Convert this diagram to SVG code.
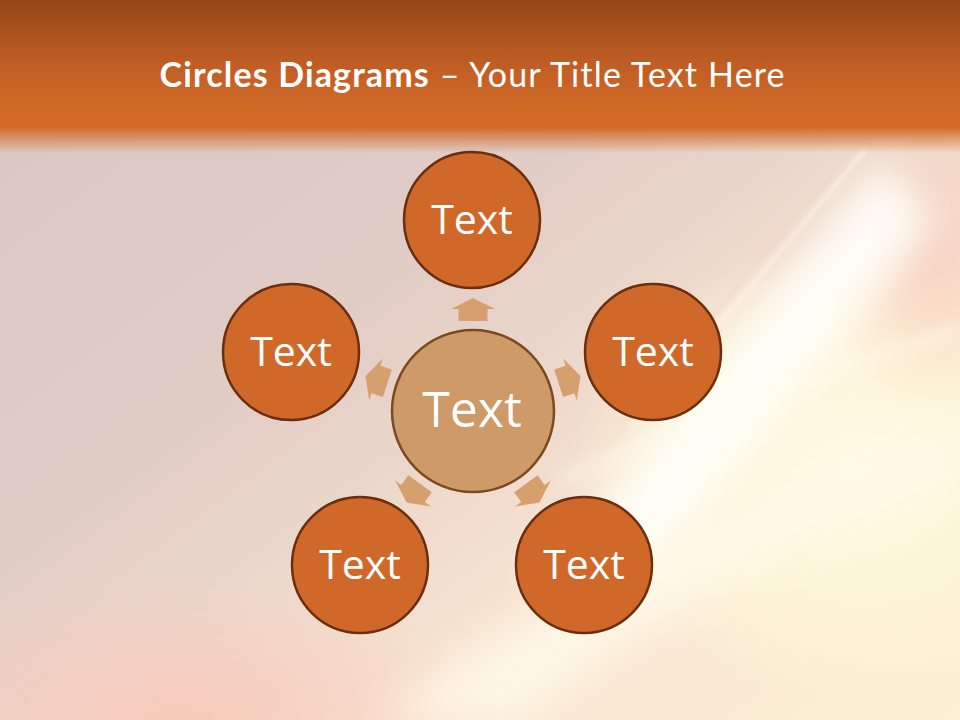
<svg xmlns="http://www.w3.org/2000/svg" width="960" height="720" viewBox="0 0 960 720">
<defs>
<linearGradient id="bg" x1="0" y1="0" x2="1" y2="1">
<stop offset="0" stop-color="#D8C6C4"/>
<stop offset="0.4" stop-color="#E2CCC6"/>
<stop offset="0.7" stop-color="#F8E4D2"/>
<stop offset="1" stop-color="#FCEFD4"/>
</linearGradient>
<radialGradient id="cream" cx="0.5" cy="0.5" r="0.5">
<stop offset="0" stop-color="#FEFBE4" stop-opacity="1"/>
<stop offset="0.6" stop-color="#FDF6D8" stop-opacity="0.8"/>
<stop offset="1" stop-color="#FDF6D8" stop-opacity="0"/>
</radialGradient>
<radialGradient id="pink" cx="0.5" cy="0.5" r="0.5">
<stop offset="0" stop-color="#F8C8B8" stop-opacity="0.9"/>
<stop offset="1" stop-color="#F8C8B8" stop-opacity="0"/>
</radialGradient>
<linearGradient id="hdr" x1="0" y1="0" x2="0" y2="1">
<stop offset="0" stop-color="#944716"/>
<stop offset="0.5" stop-color="#C05D24"/>
<stop offset="0.85" stop-color="#D16A28"/>
<stop offset="1" stop-color="#D16A28"/>
</linearGradient>
<linearGradient id="fade" x1="0" y1="0" x2="0" y2="1">
<stop offset="0" stop-color="#D16A28" stop-opacity="1"/>
<stop offset="1" stop-color="#D16A28" stop-opacity="0"/>
</linearGradient>
<filter id="blur20" x="-50%" y="-50%" width="200%" height="200%"><feGaussianBlur stdDeviation="20"/></filter>
<filter id="blur8" x="-50%" y="-50%" width="200%" height="200%"><feGaussianBlur stdDeviation="8"/></filter>
<filter id="blur3" x="-50%" y="-50%" width="200%" height="200%"><feGaussianBlur stdDeviation="2"/></filter>
<style>
.outer{fill:#CF6828;stroke:#6A2F0E;stroke-width:2.5}
.center{fill:#CD9A68;stroke:#7A4A22;stroke-width:2.5}
.lbl{font-family:"Open Sans","Liberation Sans",sans-serif;fill:#FFFFFF;text-anchor:middle}
.arr{fill:#D6A06E}
</style>
</defs>
<g id="background">
<rect x="0" y="0" width="960" height="720" fill="url(#bg)"/>
<ellipse cx="850" cy="470" rx="280" ry="230" fill="url(#cream)"/>
<ellipse cx="180" cy="720" rx="320" ry="140" fill="url(#pink)"/>
<ellipse cx="930" cy="260" rx="110" ry="150" fill="url(#pink)" opacity="0.7"/>
<path d="M 880 160 L 540 580 L 640 590 L 935 220 Z" fill="#FFFEF8" opacity="0.95" filter="url(#blur20)"/>
<path d="M 960 420 C 800 470 600 560 380 720 L 520 720 C 680 600 820 520 960 480 Z" fill="#FFFBEA" opacity="0.8" filter="url(#blur20)"/>
<path d="M 865 150 L 630 430" stroke="#FFF4EA" stroke-width="3" opacity="0.9" filter="url(#blur3)"/>
<path d="M 852 150 L 620 425" stroke="#F2D2C4" stroke-width="2" opacity="0.7" filter="url(#blur3)"/>
<path d="M 960 330 C 800 380 700 420 560 480" stroke="#FFFBEE" stroke-width="10" opacity="0.6" filter="url(#blur8)" fill="none"/>
</g>
<g id="header">
<rect x="0" y="0" width="960" height="128" fill="url(#hdr)"/>
<rect x="0" y="127" width="960" height="26" fill="url(#fade)"/>
<text x="472" y="87" font-family="Lato,'Liberation Sans',sans-serif" font-size="34" fill="#FFFFFF" text-anchor="middle" textLength="625" lengthAdjust="spacing"><tspan font-weight="bold">Circles Diagrams</tspan> – Your Title Text Here</text>
</g>
<g id="connectors">
<polygon class="arr" points="458.5,321 487.5,321 487.5,309 495,309 473,298 451,309 458.5,309"/>
<polygon class="arr" points="458.5,321 487.5,321 487.5,309 495,309 473,298 451,309 458.5,309" transform="rotate(72 473 411)"/>
<polygon class="arr" points="458.5,321 487.5,321 487.5,309 495,309 473,298 451,309 458.5,309" transform="rotate(144 473 411)"/>
<polygon class="arr" points="458.5,321 487.5,321 487.5,309 495,309 473,298 451,309 458.5,309" transform="rotate(216 473 411)"/>
<polygon class="arr" points="458.5,321 487.5,321 487.5,309 495,309 473,298 451,309 458.5,309" transform="rotate(288 473 411)"/>
</g>
<g id="node-center">
<circle class="center" cx="473" cy="411" r="81"/>
<text class="lbl" x="472" y="427" font-size="50">Text</text>
</g>
<g id="node-top">
<circle class="outer" cx="472" cy="220" r="68"/>
<text class="lbl" x="472" y="234" font-size="41">Text</text>
</g>
<g id="node-right">
<circle class="outer" cx="653" cy="352" r="68"/>
<text class="lbl" x="653" y="366" font-size="41">Text</text>
</g>
<g id="node-bottom-right">
<circle class="outer" cx="584" cy="565" r="68"/>
<text class="lbl" x="584" y="579" font-size="41">Text</text>
</g>
<g id="node-bottom-left">
<circle class="outer" cx="360" cy="565" r="68"/>
<text class="lbl" x="360" y="579" font-size="41">Text</text>
</g>
<g id="node-left">
<circle class="outer" cx="291" cy="352" r="68"/>
<text class="lbl" x="291" y="366" font-size="41">Text</text>
</g>
</svg>
